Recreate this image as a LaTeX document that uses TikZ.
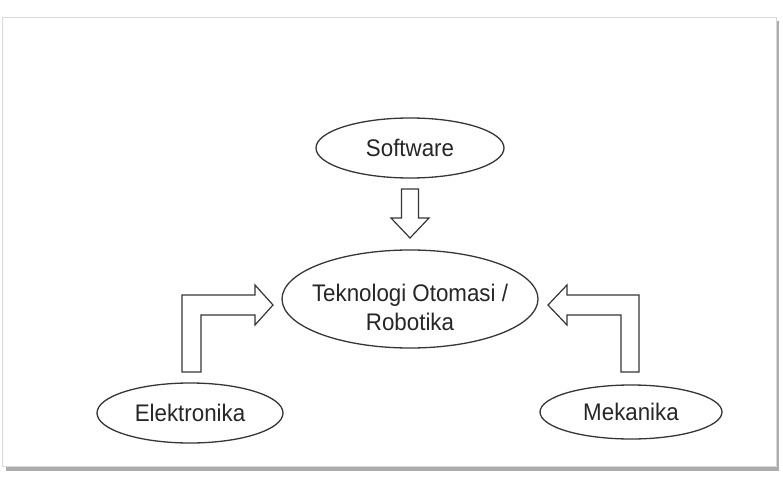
\documentclass[tikz,border=0pt]{standalone}
\usepackage{fontspec}
\setmainfont{Liberation Sans}[FakeStretch=0.93]
\usetikzlibrary{calc}
\definecolor{inkgray}{HTML}{363636}
\definecolor{txtgray}{HTML}{262626}

\begin{document}
\begin{tikzpicture}[x=1pt,y=-1pt,
  lbl/.style={text=txtgray,font=\fontsize{24}{29}\selectfont,align=center,inner sep=0pt},
  oval/.style={draw=inkgray,line width=1.3pt},
  blockarrow/.style={draw=inkgray,line width=1.2pt,fill=white,line join=miter}]
\useasboundingbox (0,0) rectangle (783,478);
% frame and its shadow
\fill[gray!65] (6,21) rectangle (779,471);
\fill[white,draw=gray!30] (2,17) rectangle (776,466);

\node[lbl] (sw) at (410,148) {Software};
\draw[oval] (sw.center) ellipse [x radius=94,y radius=30];

\node[lbl] (tek) at (410,307) {Teknologi Otomasi /\\Robotika};
\draw[oval] ($(tek.center)+(0,-8)$) ellipse [x radius=128,y radius=49];

\node[lbl] (el) at (190,413) {Elektronika};
\draw[oval] (el.center) ellipse [x radius=93,y radius=30];

\node[lbl] (mek) at (631,412) {Mekanika};
\draw[oval] (mek.center) ellipse [x radius=91,y radius=27];

% block arrows
\coordinate (dtip) at ($(sw.center)+(0,90)$);
\draw[blockarrow] (dtip) -- ++(-19,-20) -- ++(10.5,0) -- ++(0,-29)
  -- ++(17,0) -- ++(0,29) -- ++(10.5,0) -- cycle;

\coordinate (ltip) at ($(tek.center)+(-137,-2)$);
\draw[blockarrow] (ltip) -- ++(-18,-20) -- ++(0,10) -- ++(-73,0)
  -- ++(0,77) -- ++(19,0) -- ++(0,-57) -- ++(54,0) -- ++(0,10) -- cycle;

\coordinate (rtip) at ($(tek.center)+(138,-2)$);
\draw[blockarrow] (rtip) -- ++(19,-20) -- ++(0,10) -- ++(72,0)
  -- ++(0,77) -- ++(-18,0) -- ++(0,-57) -- ++(-54,0) -- ++(0,10) -- cycle;
\end{tikzpicture}
\end{document}
